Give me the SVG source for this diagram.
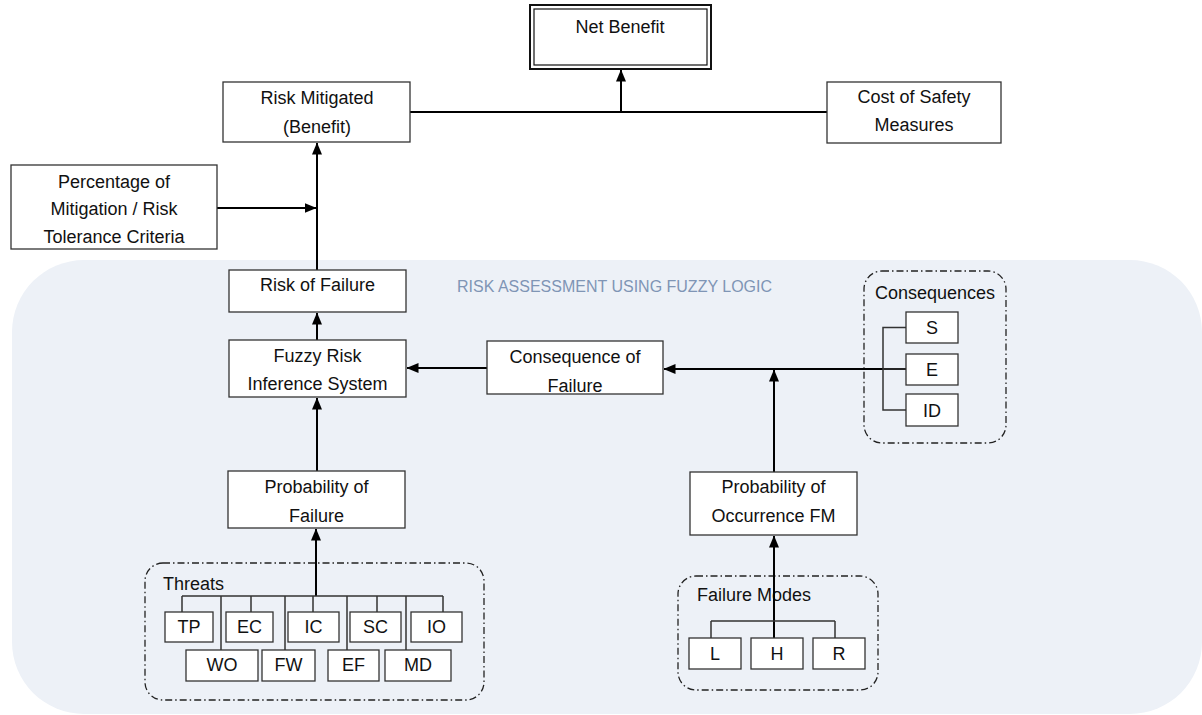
<svg xmlns="http://www.w3.org/2000/svg" width="1202" height="715" viewBox="0 0 1202 715">
  <defs>
    <marker id="arrow" viewBox="0 0 12 10" markerWidth="12" markerHeight="10" refX="11.5" refY="5" orient="auto" markerUnits="userSpaceOnUse">
      <path d="M0,0 L12,5 L0,10 z" fill="#000"/>
    </marker>
    <style>
      text { font-family: "Liberation Sans", Arial, sans-serif; font-size: 18px; fill: #111; }
      .mid { text-anchor: middle; }
      .box { fill: #fff; stroke: #333; stroke-width: 1.3; }
      .group { fill: none; stroke: #222; stroke-width: 1.3; stroke-dasharray: 7 3 1.5 3; }
      .flow { fill: none; stroke: #000; stroke-width: 2; }
      .tree { fill: none; stroke: #333; stroke-width: 1.5; }
      .title { font-size: 16px; fill: #7F95B5; }
    </style>
  </defs>

  <!-- shaded panel for the fuzzy assessment stage -->
  <rect id="panel" x="12" y="260" width="1190" height="454" rx="72" ry="72" fill="#EDF1F7"/>
  <text class="title" x="457" y="292">RISK ASSESSMENT USING FUZZY LOGIC</text>

  <!-- dashed input groups -->
  <g id="threats">
    <rect class="group" x="145" y="563" width="339" height="137" rx="18"/>
    <text x="163" y="590">Threats</text>
  </g>
  <g id="failure-modes">
    <rect class="group" x="678" y="576" width="200" height="114" rx="18"/>
    <text x="697" y="601">Failure Modes</text>
  </g>
  <g id="consequences">
    <rect class="group" x="864" y="271" width="142" height="172" rx="18"/>
    <text class="mid" x="935" y="299">Consequences</text>
  </g>

  <!-- connectors -->
  <g id="connectors">
    <!-- benefit vs cost into net benefit -->
    <line class="flow" x1="410" y1="112" x2="827" y2="112"/>
    <line class="flow" x1="621" y1="112" x2="621" y2="70" marker-end="url(#arrow)"/>
    <!-- risk of failure up to risk mitigated -->
    <line class="flow" x1="317" y1="270" x2="317" y2="143" marker-end="url(#arrow)"/>
    <line class="flow" x1="217" y1="208" x2="316" y2="208" marker-end="url(#arrow)"/>
    <!-- inference chain -->
    <line class="flow" x1="317" y1="340" x2="317" y2="313" marker-end="url(#arrow)"/>
    <line class="flow" x1="317" y1="471" x2="317" y2="398" marker-end="url(#arrow)"/>
    <line class="flow" x1="487" y1="368" x2="407" y2="368" marker-end="url(#arrow)"/>
    <line class="flow" x1="906" y1="369" x2="664" y2="369" marker-end="url(#arrow)"/>
    <line class="flow" x1="774" y1="472" x2="774" y2="370" marker-end="url(#arrow)"/>
    <!-- threats tree -->
    <line class="flow" x1="316" y1="596" x2="316" y2="529" marker-end="url(#arrow)"/>
    <path class="tree" d="M182,596 H443 M182,596 V612 M251,596 V612 M313,596 V612 M377,596 V612 M443,596 V612 M221,596 V650 M285,596 V650 M347,596 V650 M406,596 V650"/>
    <!-- failure modes tree -->
    <line class="flow" x1="774" y1="638" x2="774" y2="536" marker-end="url(#arrow)"/>
    <path class="tree" d="M711,621 H835 M711,621 V638 M835,621 V638"/>
    <!-- consequences bracket -->
    <path class="tree" d="M906,327.5 H883 V410 H906 M883,369 H906"/>
  </g>

  <!-- main nodes -->
  <g id="net-benefit">
    <rect x="530" y="5" width="181" height="64" fill="#fff" stroke="#111" stroke-width="2"/>
    <rect x="534" y="9" width="173" height="56" fill="none" stroke="#111" stroke-width="1.2"/>
    <text class="mid" x="620" y="33">Net Benefit</text>
  </g>
  <g id="risk-mitigated">
    <rect class="box" x="223" y="82" width="187" height="60"/>
    <text class="mid" x="317" y="104">Risk Mitigated</text>
    <text class="mid" x="317" y="133">(Benefit)</text>
  </g>
  <g id="cost-of-safety">
    <rect class="box" x="827" y="82" width="174" height="61"/>
    <text class="mid" x="914" y="103">Cost of Safety</text>
    <text class="mid" x="914" y="131">Measures</text>
  </g>
  <g id="mitigation-criteria">
    <rect class="box" x="11" y="165" width="206" height="84"/>
    <text class="mid" x="114" y="188">Percentage of</text>
    <text class="mid" x="114" y="215">Mitigation / Risk</text>
    <text class="mid" x="114" y="243">Tolerance Criteria</text>
  </g>
  <g id="risk-of-failure">
    <rect class="box" x="229" y="270" width="177" height="42"/>
    <text class="mid" x="317.5" y="291">Risk of Failure</text>
  </g>
  <g id="fuzzy-inference">
    <rect class="box" x="229" y="340" width="177" height="57"/>
    <text class="mid" x="317.5" y="362">Fuzzy Risk</text>
    <text class="mid" x="317.5" y="390">Inference System</text>
  </g>
  <g id="consequence-of-failure">
    <rect class="box" x="487" y="341" width="176" height="53"/>
    <text class="mid" x="575" y="363">Consequence of</text>
    <text class="mid" x="575" y="392">Failure</text>
  </g>
  <g id="probability-of-failure">
    <rect class="box" x="228" y="471" width="177" height="57"/>
    <text class="mid" x="316.5" y="493">Probability of</text>
    <text class="mid" x="316.5" y="522">Failure</text>
  </g>
  <g id="probability-of-occurrence">
    <rect class="box" x="690" y="472" width="167" height="63"/>
    <text class="mid" x="773.5" y="493">Probability of</text>
    <text class="mid" x="773.5" y="522">Occurrence FM</text>
  </g>

  <!-- threat items -->
  <g id="threat-TP"><rect class="box" x="165" y="612" width="48" height="30"/><text class="mid" x="189" y="633">TP</text></g>
  <g id="threat-EC"><rect class="box" x="226" y="612" width="47" height="30"/><text class="mid" x="249.5" y="633">EC</text></g>
  <g id="threat-IC"><rect class="box" x="288" y="612" width="51" height="30"/><text class="mid" x="313.5" y="633">IC</text></g>
  <g id="threat-SC"><rect class="box" x="350" y="612" width="51" height="30"/><text class="mid" x="375.5" y="633">SC</text></g>
  <g id="threat-IO"><rect class="box" x="411" y="612" width="51" height="30"/><text class="mid" x="436.5" y="633">IO</text></g>
  <g id="threat-WO"><rect class="box" x="186" y="650" width="72" height="31"/><text class="mid" x="222" y="671">WO</text></g>
  <g id="threat-FW"><rect class="box" x="262" y="650" width="53" height="31"/><text class="mid" x="288.5" y="671">FW</text></g>
  <g id="threat-EF"><rect class="box" x="328" y="650" width="51" height="31"/><text class="mid" x="353.5" y="671">EF</text></g>
  <g id="threat-MD"><rect class="box" x="385" y="650" width="66" height="31"/><text class="mid" x="418" y="671">MD</text></g>

  <!-- failure mode items -->
  <g id="mode-L"><rect class="box" x="689" y="638" width="52" height="31"/><text class="mid" x="715" y="660">L</text></g>
  <g id="mode-H"><rect class="box" x="751" y="638" width="52" height="31"/><text class="mid" x="777" y="660">H</text></g>
  <g id="mode-R"><rect class="box" x="813" y="638" width="52" height="31"/><text class="mid" x="839" y="660">R</text></g>

  <!-- consequence items -->
  <g id="cons-S"><rect class="box" x="906" y="312" width="52" height="31"/><text class="mid" x="932" y="334">S</text></g>
  <g id="cons-E"><rect class="box" x="906" y="354" width="52" height="31"/><text class="mid" x="932" y="376">E</text></g>
  <g id="cons-ID"><rect class="box" x="906" y="394" width="52" height="32"/><text class="mid" x="932" y="416.5">ID</text></g>
</svg>
